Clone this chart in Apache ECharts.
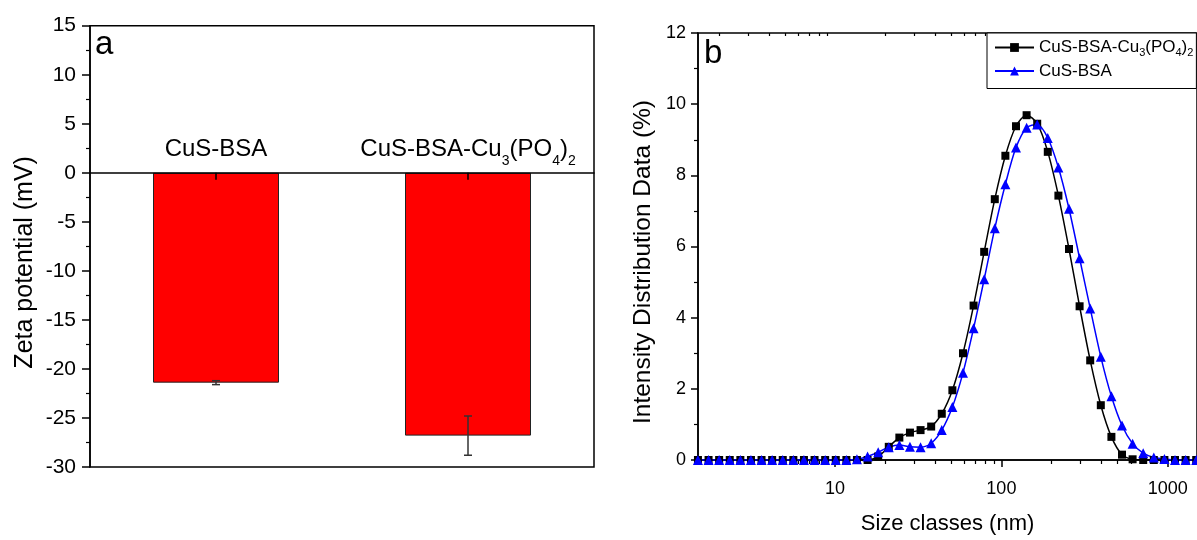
<!DOCTYPE html>
<html><head><meta charset="utf-8">
<script src="https://cdn.jsdelivr.net/npm/echarts@6/dist/echarts.min.js"></script>
<style>html,body{margin:0;padding:0;background:#fff}#c{width:1197px;height:540px}</style>
</head><body><div id="c"></div>
<script>
// ---- Panel a : zeta potential ----
const categories = ['CuS-BSA', 'CuS-BSA-Cu3(PO4)2'];
const zetaMean = [-21.4, -26.8];
const zetaErr = [0.2, 2.0];
const zetaMin = -30, zetaMax = 15;

// ---- Panel b : DLS intensity distribution ----
const sizeClasses = [1.499, 1.736, 2.010, 2.328, 2.696, 3.122, 3.615, 4.187, 4.849, 5.615, 6.503, 7.531, 8.721,
  10.10, 11.70, 13.54, 15.69, 18.17, 21.04, 24.36, 28.21, 32.67, 37.84, 43.82, 50.75, 58.77, 68.06, 78.82, 91.28,
  105.7, 122.4, 141.8, 164.2, 190.1, 220.2, 255.0, 295.3, 342.0, 396.1, 458.7, 531.2, 615.1, 712.4, 825.0, 955.4,
  1106, 1281, 1484];
const cuPO4 = [0, 0, 0, 0, 0, 0, 0, 0, 0, 0, 0, 0, 0,
  0, 0, 0, 0, 0.10, 0.37, 0.63, 0.77, 0.84, 0.94, 1.30, 1.96, 3.00, 4.34, 5.85, 7.33,
  8.55, 9.38, 9.69, 9.45, 8.66, 7.43, 5.93, 4.32, 2.80, 1.54, 0.65, 0.15, 0.02, 0, 0, 0,
  0, 0, 0];
const cuBSA = [0, 0, 0, 0, 0, 0, 0, 0, 0, 0, 0, 0, 0,
  0, 0, 0.02, 0.10, 0.22, 0.36, 0.42, 0.37, 0.36, 0.47, 0.84, 1.49, 2.45, 3.70, 5.08, 6.51,
  7.75, 8.78, 9.34, 9.43, 9.05, 8.22, 7.06, 5.67, 4.26, 2.90, 1.79, 0.97, 0.46, 0.19, 0.07, 0.03,
  0, 0, 0];
const seriesNames = ['CuS-BSA-Cu3(PO4)2', 'CuS-BSA'];
const sizeMajorTicks = [10, 100, 1000];
const sizeMinorTicks = [2, 3, 4, 5, 6, 7, 8, 9, 20, 30, 40, 50, 60, 70, 80, 90, 200, 300, 400, 500, 600, 700, 800, 900];

const FONT = "'Liberation Sans', Arial, Helvetica, sans-serif";
function subRich(s) {
  return ('{n|' + s.replace(/(\d)/g, '}{s|$1}{n|') + '}').replace(/\{n\|\}/g, '');
}
const black = '#000';
const axisLine = { show: true, lineStyle: { color: black, width: 1.5 } };

// grid a geometry; the category axis sits on the zero line of the value axis
const gridA = { left: 90, width: 504, top: 25.7, height: 441.3 };
const zeroOffset = -gridA.height * (0 - zetaMin) / (zetaMax - zetaMin);

const chart = echarts.init(document.getElementById('c'), null, { renderer: 'canvas' });
chart.setOption({
  animation: false,
  backgroundColor: '#fff',
  textStyle: { fontFamily: FONT, color: black },
  grid: [
    Object.assign({ show: true, borderColor: black, borderWidth: 1.5 }, gridA),
    { left: 698, width: 500, top: 33, height: 428.7, show: true, borderColor: black, borderWidth: 1.5 }
  ],
  legend: {
    data: seriesNames,
    orient: 'vertical',
    left: 987, top: 33,
    padding: [6, 3, 9, 7],
    itemGap: 4,
    itemWidth: 39, itemHeight: 11,
    backgroundColor: '#fff',
    borderColor: black, borderWidth: 1, borderRadius: 0,
    selectedMode: false,
    formatter: subRich,
    textStyle: {
      fontFamily: FONT, color: black,
      rich: {
        n: { fontSize: 17, lineHeight: 22, fontFamily: FONT, color: black },
        s: { fontSize: 11, lineHeight: 11, verticalAlign: 'bottom', fontFamily: FONT, color: black }
      }
    }
  },
  xAxis: [
    {
      gridIndex: 0, type: 'category', data: categories, position: 'bottom', offset: zeroOffset, z: 5,
      axisLine: { show: true, onZero: false, lineStyle: { color: black, width: 1.5 } },
      axisTick: { show: true, alignWithLabel: true, length: 7, lineStyle: { color: black, width: 1.5 } },
      axisLabel: {
        inside: true, margin: 5, interval: 0, formatter: subRich,
        rich: {
          n: { fontSize: 24, lineHeight: 36, fontFamily: FONT, color: black },
          s: { fontSize: 14, lineHeight: 14, verticalAlign: 'bottom', fontFamily: FONT, color: black }
        }
      },
      splitLine: { show: false }
    },
    {
      gridIndex: 1, type: 'log', min: 1.5, max: 1500, position: 'bottom',
      axisLine: { show: true, onZero: false, lineStyle: { color: black, width: 1.5 } },
      axisTick: { show: true, customValues: sizeMajorTicks, length: 7, lineStyle: { color: black, width: 1.5 } },
      axisLabel: { customValues: sizeMajorTicks, fontSize: 18, margin: 20, color: black, fontFamily: FONT,
        formatter: function (v) { return String(Math.round(v)); } },
      splitLine: { show: false },
      name: 'Size classes (nm)', nameLocation: 'middle', nameGap: 53,
      nameTextStyle: { fontSize: 22, fontFamily: FONT, color: black }
    },
    {
      gridIndex: 1, type: 'log', min: 1.5, max: 1500, position: 'bottom',
      axisLine: { show: false, onZero: false },
      axisTick: { show: true, customValues: sizeMinorTicks, length: 4, lineStyle: { color: black, width: 1.2 } },
      axisLabel: { show: false }, splitLine: { show: false }
    },
    {
      gridIndex: 1, type: 'log', min: 1.5, max: 1500, position: 'top',
      axisLine: { show: false, onZero: false },
      axisTick: { show: true, inside: true, customValues: sizeMinorTicks, length: 3, lineStyle: { color: black, width: 1.2 } },
      axisLabel: { show: false }, splitLine: { show: false }
    }
  ],
  yAxis: [
    {
      gridIndex: 0, type: 'value', min: zetaMin, max: zetaMax, interval: 5,
      axisLine: axisLine,
      axisTick: { show: true, length: 8, lineStyle: { color: black, width: 1.5 } },
      minorTick: { show: true, splitNumber: 2, length: 4, lineStyle: { color: black, width: 1.2 } },
      axisLabel: { fontSize: 21, margin: 14, color: black, fontFamily: FONT },
      splitLine: { show: false },
      name: 'Zeta potential (mV)', nameLocation: 'middle', nameGap: 52,
      nameTextStyle: { fontSize: 25, fontFamily: FONT, color: black, padding: [0, 32, 0, 0] }
    },
    {
      gridIndex: 1, type: 'value', min: 0, max: 12, interval: 2,
      axisLine: axisLine,
      axisTick: { show: true, length: 7, lineStyle: { color: black, width: 1.5 } },
      minorTick: { show: true, splitNumber: 2, length: 4, lineStyle: { color: black, width: 1.2 } },
      axisLabel: { fontSize: 18, margin: 12, color: black, fontFamily: FONT },
      splitLine: { show: false },
      name: 'Intensity Distribution Data (%)', nameLocation: 'middle', nameGap: 42,
      nameTextStyle: { fontSize: 24.5, fontFamily: FONT, color: black, padding: [0, 31, 0, 0] }
    }
  ],
  graphic: [
    { type: 'text', left: 95, top: 28, style: { text: 'a', font: '33px ' + FONT, fill: black } },
    { type: 'text', left: 704, top: 37, style: { text: 'b', font: '33px ' + FONT, fill: black } }
  ],
  series: [
    {
      type: 'bar', xAxisIndex: 0, yAxisIndex: 0, data: zetaMean, barWidth: '50%',
      itemStyle: { color: '#ff0000', borderColor: '#222', borderWidth: 1 }
    },
    {
      type: 'custom', xAxisIndex: 0, yAxisIndex: 0, z: 5,
      data: zetaMean.map((m, i) => [i, m - zetaErr[i], m + zetaErr[i]]),
      encode: { x: 0, y: [1, 2] },
      renderItem: function (params, api) {
        const idx = api.value(0);
        const lo = api.coord([idx, api.value(1)]);
        const hi = api.coord([idx, api.value(2)]);
        const w = 4;
        const st = { stroke: '#333', lineWidth: 1.5 };
        return {
          type: 'group', children: [
            { type: 'line', shape: { x1: lo[0], y1: lo[1], x2: hi[0], y2: hi[1] }, style: st },
            { type: 'line', shape: { x1: lo[0] - w, y1: lo[1], x2: lo[0] + w, y2: lo[1] }, style: st },
            { type: 'line', shape: { x1: hi[0] - w, y1: hi[1], x2: hi[0] + w, y2: hi[1] }, style: st }
          ]
        };
      }
    },
    {
      type: 'line', name: seriesNames[0], xAxisIndex: 1, yAxisIndex: 1,
      data: sizeClasses.map((s, i) => [s, cuPO4[i]]),
      symbol: 'rect', symbolSize: 8, smooth: 0.3,
      lineStyle: { color: black, width: 1.5 }, itemStyle: { color: black }
    },
    {
      type: 'line', name: seriesNames[1], xAxisIndex: 1, yAxisIndex: 1,
      data: sizeClasses.map((s, i) => [s, cuBSA[i]]),
      symbol: 'triangle', symbolSize: 10, smooth: 0.3,
      lineStyle: { color: '#0000ff', width: 1.5 }, itemStyle: { color: '#0000ff' }
    }
  ]
});
</script></body></html>
